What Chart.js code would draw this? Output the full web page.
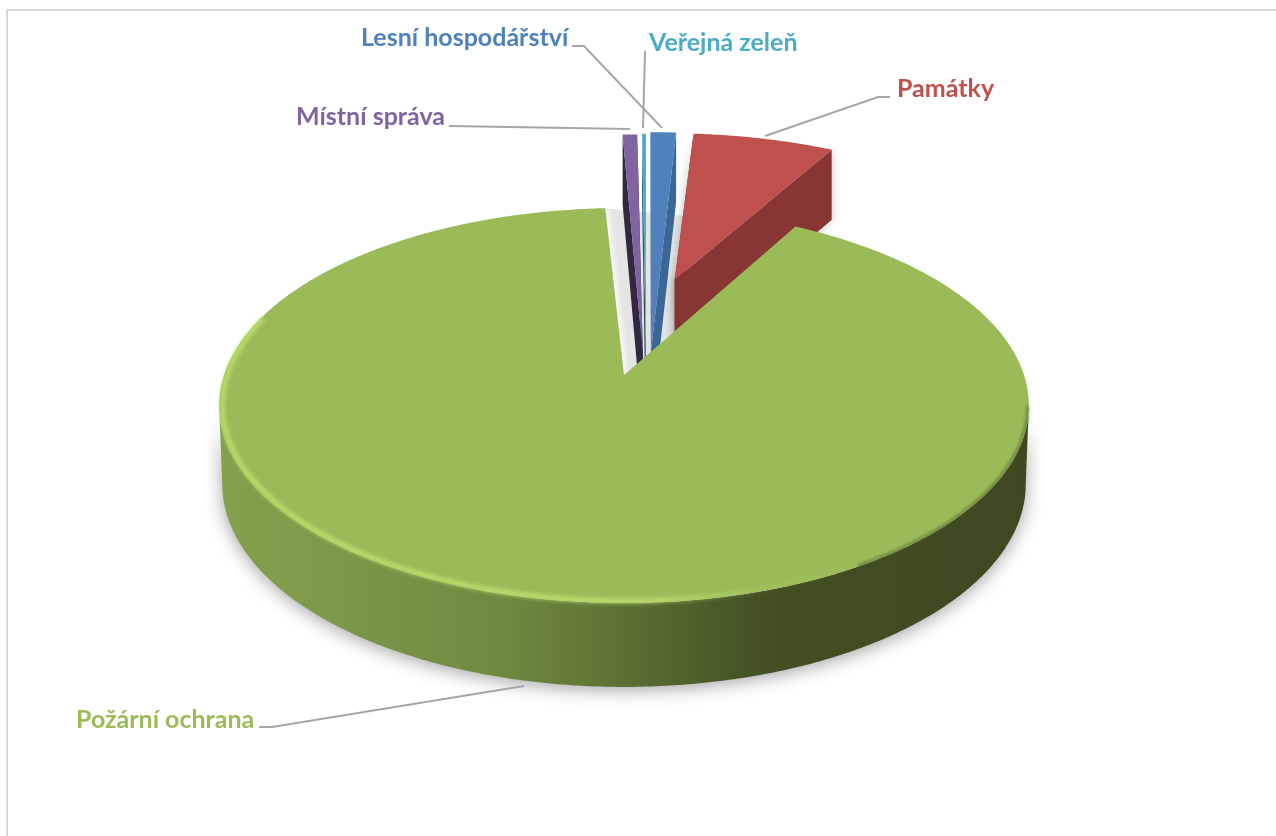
<!DOCTYPE html>
<html>
<head>
<meta charset="utf-8">
<style>
  html, body { margin: 0; background: #fff; }
  #wrap { position: relative; width: 1276px; height: 836px; overflow: hidden; }
  #frame { position: absolute; left: 6px; top: 9px; width: 1280px; height: 840px;
           border-left: 2px solid #d9d9d9; border-top: 2px solid #d9d9d9; }
  canvas { position: absolute; left: 0; top: 0; }
</style>
</head>
<body>
<div id="wrap">
  <div id="frame"></div>
  <canvas id="pie3d" width="1276" height="836"></canvas>
</div>
<script src="https://cdn.jsdelivr.net/npm/chart.js@4/dist/chart.umd.min.js"></script>
<script>
// Data (share of the total, %)
const pieLabels = ['Lesní hospodářství', 'Památky', 'Požární ochrana', 'Místní správa', 'Veřejná zeleň'];
const pieValues = [0.89, 7.06, 91.33, 0.56, 0.16];

const topColors = ['#4f81bd', '#c0504d', '#9bbb59', '#8064a2', '#4bacc6'];
const faceColors = ['#3a6796', '#873634', '#3e4921', '#32283f', '#1f5563'];

// Explosion of each slice and how the thin slices stretch behind the big one
const sliceOffset = [-78, 86, 135, -85, -83];
const sliceReach = [1.43, 1.02, 1, 1.43, 1.43];
const sliceLean = [-1, -1, 0, -14, -9];
// Small gaps between slices, degrees cut off the start / end of a slice
const trimStart = [0, 0.7, 0, 0, 0.1];
const trimEnd = [0, 0, 1, 0.2, 0];
const drawOrder = [1, 0, 4, 3, 2];

// View: the big slice's tip sits at (tipX, tipY)
const RADIUS = 400, DEPTH = 2592, TILT = 0.482;
const tipX = 624, tipY = 375;

// Label text position and leader line, in the same order as pieLabels
const labelPos = [[361, 38], [897, 89], [76, 720], [296, 117], [649, 43]];
const leaders = [
  [[572, 46], [584, 46], [662, 128]],
  [[890, 97], [878, 97], [765, 136]],
  [[259, 727], [272, 727], [524, 686]],
  [[449, 126], [630, 129]],
  [[645, 51], [643, 128]]
];

const offsetVec = (i, el) => {
  const mid = (el.startAngle + el.endAngle) / 2;
  return [Math.cos(mid) * sliceOffset[i] + sliceLean[i], Math.sin(mid) * sliceOffset[i]];
};

const pie3d = {
  id: 'pie3d',
  beforeDatasetsDraw(chart) {
    const ctx = chart.ctx;
    const arcs = chart.getDatasetMeta(0).data;
    const origin = offsetVec(2, arcs[2]);
    const DEG = Math.PI / 180;
    const startOf = i => arcs[i].startAngle + trimStart[i] * DEG;
    const endOf = i => arcs[i].endAngle - trimEnd[i] * DEG;

    // plane point -> screen, drop = how far below the top face
    const project = (px, py, drop) => {
      const dy = py - origin[1];
      const s = DEPTH / (DEPTH - dy);
      return [tipX + (px - origin[0]) * s, tipY + dy * TILT * s + (drop ? 34 + 44 * s : 0)];
    };
    const rimPoint = (i, a, drop, inset) => {
      const v = offsetVec(i, arcs[i]);
      const r = RADIUS * sliceReach[i] - (inset || 0);
      return project(v[0] + Math.cos(a) * r, v[1] + Math.sin(a) * r, drop);
    };
    const tipPoint = (i, drop) => {
      const v = offsetVec(i, arcs[i]);
      return project(v[0], v[1], drop);
    };
    const angles = (a0, a1) => {
      const n = Math.max(2, Math.ceil(Math.abs(a1 - a0) / 0.01));
      const out = [];
      for (let k = 0; k <= n; k++) out.push(a0 + (a1 - a0) * k / n);
      return out;
    };
    const poly = pts => {
      ctx.beginPath();
      pts.forEach((p, k) => k ? ctx.lineTo(p[0], p[1]) : ctx.moveTo(p[0], p[1]));
      ctx.closePath();
    };
    const line = pts => {
      ctx.beginPath();
      pts.forEach((p, k) => k ? ctx.lineTo(p[0], p[1]) : ctx.moveTo(p[0], p[1]));
      ctx.stroke();
    };

    // Grey ground shadow in the notch of the big slice
    ctx.save();
    ctx.beginPath();
    ctx.rect(0, 202, 688, 300);
    ctx.clip();
    const notchA = tipPoint(2), notchB = rimPoint(2, endOf(2) - Math.PI * 2);
    poly([notchA, notchB, rimPoint(2, startOf(2))]);
    ctx.fillStyle = '#e4e4e4';
    ctx.fill();
    ctx.filter = 'blur(3px)';
    ctx.strokeStyle = '#fff';
    ctx.lineWidth = 11;
    line([[notchA[0] - 3, notchA[1]], [notchB[0] - 3, notchB[1]]]);
    ctx.restore();

    drawOrder.forEach(i => {
      const a0 = startOf(i), a1 = endOf(i);
      const list = angles(a0, a1);
      const top = [tipPoint(i)].concat(list.map(a => rimPoint(i, a)));

      // Outer wall: only the part turned to the viewer
      const front = list.filter(a => Math.sin(a) > RADIUS / DEPTH);
      if (front.length > 1) {
        const wall = front.map(a => rimPoint(i, a)).concat(front.slice().reverse().map(a => rimPoint(i, a, true, 3)));
        const grad = ctx.createLinearGradient(218, 0, 1028, 0);
        grad.addColorStop(0, '#86a14d');
        grad.addColorStop(0.35, '#6f8a40');
        grad.addColorStop(0.5, '#5c7033');
        grad.addColorStop(0.68, '#414f22');
        grad.addColorStop(1, '#3e4921');
        ctx.save();
        ctx.shadowColor = 'rgba(0,0,0,0.36)';
        ctx.shadowBlur = 18;
        ctx.shadowOffsetY = 3;
        poly(wall);
        ctx.fillStyle = grad;
        ctx.fill();
        ctx.restore();
      }

      // Cut faces
      ctx.save();
      if (i === 1) {
        ctx.shadowColor = 'rgba(0,0,0,0.25)';
        ctx.shadowBlur = 10;
      }
      ctx.fillStyle = faceColors[i];
      if (i !== 2) {
        poly([tipPoint(i), rimPoint(i, a0), rimPoint(i, a0, true), tipPoint(i, true)]);
        ctx.fill();
        poly([tipPoint(i), rimPoint(i, a1), rimPoint(i, a1, true), tipPoint(i, true)]);
        ctx.fill();
      }
      ctx.restore();

      // Top face
      poly(top);
      ctx.fillStyle = topColors[i];
      ctx.fill();
    });

    // Soft light edge along the near rim of the big slice
    const light = ctx.createLinearGradient(218, 0, 900, 0);
    light.addColorStop(0, 'rgba(196,232,110,0.95)');
    light.addColorStop(0.62, 'rgba(200,236,120,0.9)');
    light.addColorStop(0.8, 'rgba(200,236,120,0.15)');
    light.addColorStop(1, 'rgba(200,236,120,0)');
    ctx.save();
    ctx.filter = 'blur(2px)';
    ctx.strokeStyle = light;
    ctx.lineWidth = 4;
    line(angles(Math.PI * 1.1, Math.PI * 0.33).map(a => rimPoint(2, a, false, 3)));
    // and a blurred dark edge on the right
    ctx.strokeStyle = 'rgba(70,85,35,0.55)';
    ctx.lineWidth = 3;
    ctx.filter = 'blur(1.5px)';
    line(angles(Math.PI * 0.33, Math.PI * 0.05).map(a => rimPoint(2, a, false, 1)));
    ctx.restore();

    // Leader lines and labels
    ctx.strokeStyle = '#a6a6a6';
    ctx.lineWidth = 2;
    leaders.forEach(l => line(l));
    ctx.font = 'bold 25px Lato';
    ctx.textBaseline = 'middle';
    pieLabels.forEach((t, i) => {
      ctx.fillStyle = topColors[i];
      ctx.fillText(t, labelPos[i][0], labelPos[i][1]);
    });
    return false;
  }
};

new Chart(document.getElementById('pie3d'), {
  type: 'pie',
  data: {
    labels: pieLabels,
    datasets: [{ data: pieValues, backgroundColor: topColors, borderWidth: 0, offset: sliceOffset }]
  },
  options: {
    responsive: false,
    animation: false,
    events: [],
    rotation: 0.5,
    radius: RADIUS,
    plugins: { legend: { display: false }, tooltip: { enabled: false } }
  },
  plugins: [pie3d]
});
</script>
</body>
</html>
